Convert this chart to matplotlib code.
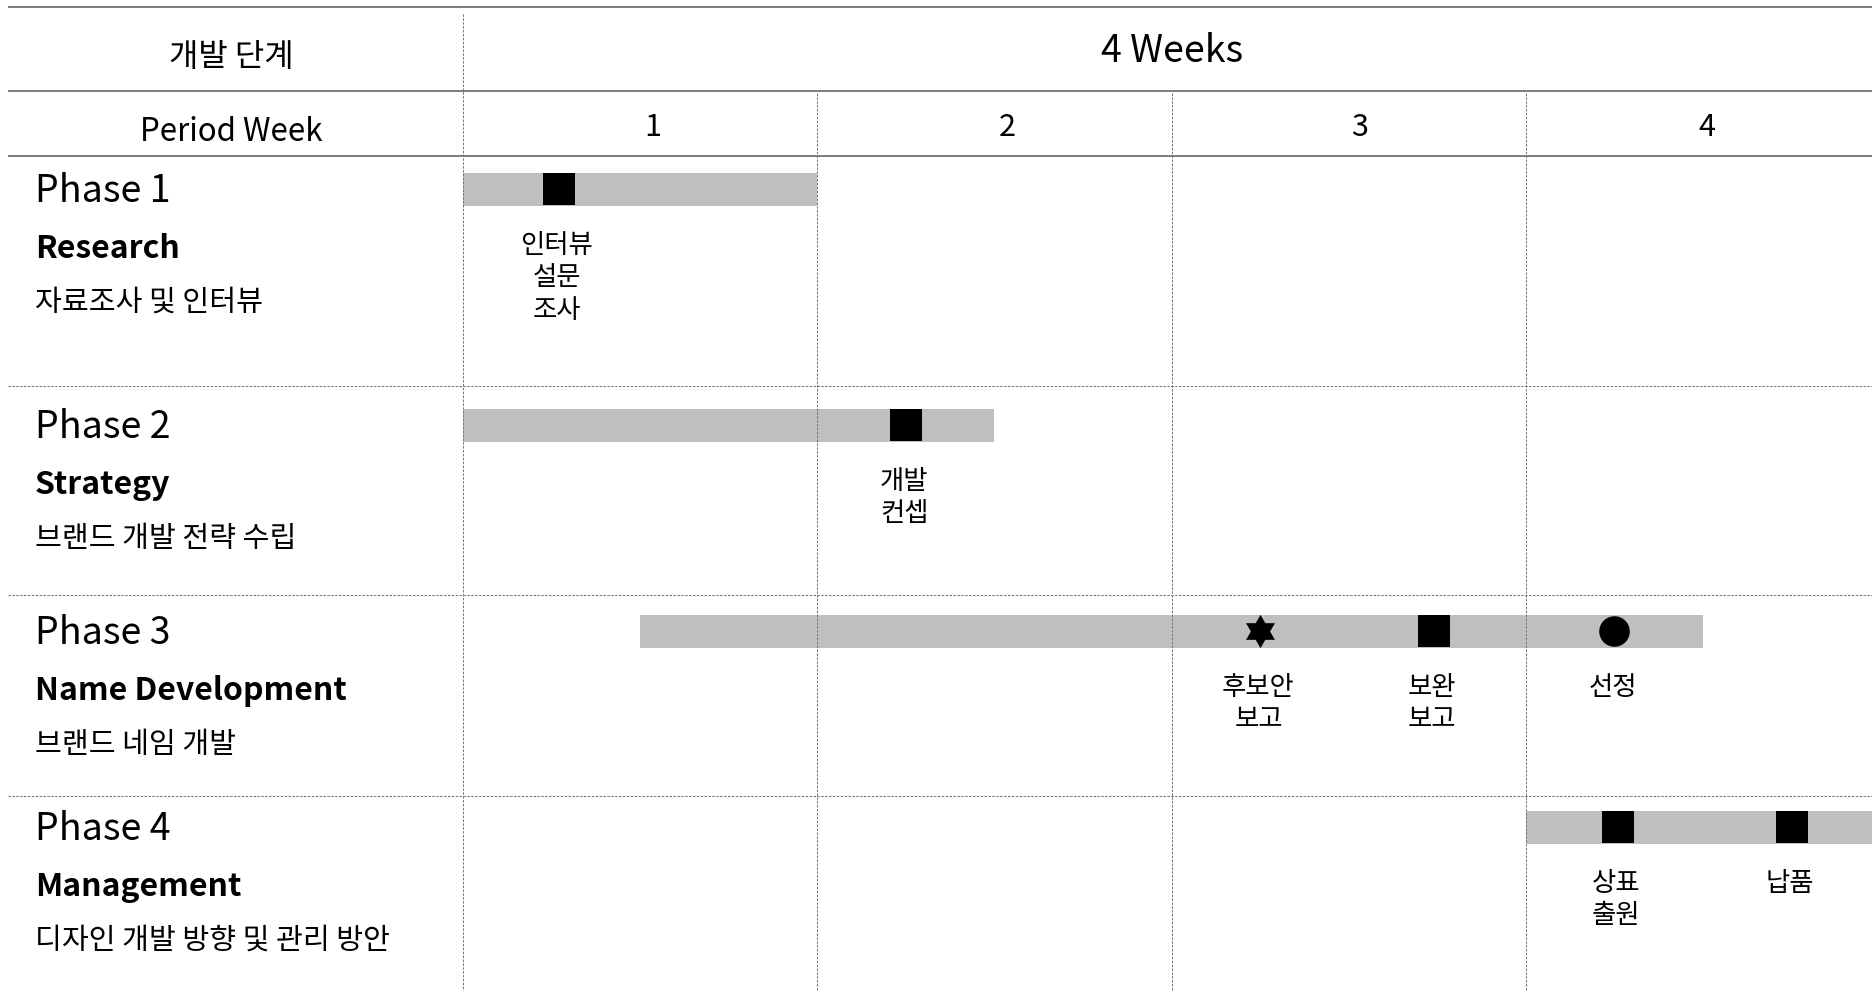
import numpy as np
import matplotlib
matplotlib.use('Agg')
import matplotlib.pyplot as plt
from matplotlib.path import Path

plt.rcParams['font.family'] = ['Noto Sans CJK KR', 'DejaVu Sans']

# --- data ---
weeks = ['1', '2', '3', '4']
phase_nums = ['Phase 1', 'Phase 2', 'Phase 3', 'Phase 4']
phase_names = ['Research', 'Strategy', 'Name Development', 'Management']
phase_desc = ['자료조사 및 인터뷰', '브랜드 개발 전략 수립', '브랜드 네임 개발',
              '디자인 개발 방향 및 관리 방안']
bar_start = [0.0, 0.0, 0.5, 3.0]
bar_end = [1.0, 1.5, 3.5, 4.0]

ms_phase = [0, 1, 2, 2, 2, 3, 3]
ms_week = [0.27, 1.25, 2.25, 2.74, 3.25, 3.26, 3.75]
ms_kind = ['square', 'square', 'star', 'square', 'circle', 'square', 'square']
ms_label = ['인터뷰\n설문\n조사', '개발\n컨셉', '후보안\n보고', '보완\n보고', '선정',
            '상표\n출원', '납품']

# --- layout (x in weeks, y in pixels from top) ---
W, H = 1872, 991
WPX = 354.3                 # pixels per week
X0 = -463 / WPX             # left edge of figure in week units
X1 = X0 + W / WPX
row_top = [156, 386, 595, 796]
bar_y = [189, 425, 631, 827]
BAR_H = 33

# six pointed star
ang = np.deg2rad(90 + 30 * np.arange(12))
rad = np.where(np.arange(12) % 2 == 0, 1.0, 1 / np.sqrt(3))
star = np.column_stack([rad * np.cos(ang), rad * np.sin(ang)])
star = np.vstack([star, star[:1]])
markers = {'square': ('s', 23), 'circle': ('o', 22), 'star': (Path(star, closed=True), 24)}

fig = plt.figure(figsize=(W / 100, H / 100), dpi=100)
ax = fig.add_axes([0, 0, 1, 1])
ax.set_xlim(X0, X1)
ax.set_ylim(H, 0)
ax.axis('off')

# bars
ax.barh(bar_y, np.array(bar_end) - np.array(bar_start), left=bar_start,
        height=BAR_H, color='#bfbfbf', zorder=1)

# grid lines
xs = X0 + 8 / WPX
dash = (0, (2.5, 1.5))
ax.hlines([7, 91, 156], xs, X1, color='#5a5a5a', lw=1.1, zorder=3)
ax.hlines(row_top[1:], xs, X1, color='#707070', lw=0.7, linestyles=[dash], zorder=3)
ax.vlines(0, 14, H, color='#707070', lw=0.7, linestyles=[dash], zorder=3)
ax.vlines([1, 2, 3], 93, H, color='#707070', lw=0.7, linestyles=[dash], zorder=3)

# header
ax.text(X0 / 2, 57, '개발 단계', ha='center', va='center', fontsize=23)
ax.text(2.0, 52, '4 Weeks', ha='center', va='center', fontsize=27)
ax.text(X0 / 2, 132, 'Period Week', ha='center', va='center', fontsize=22.5)
week_x = [0.535, 1.535, 2.53, 3.51]
for x, w in zip(week_x, weeks):
    ax.text(x, 127, w, ha='center', va='center', fontsize=22)

# left column
tx = X0 + 35 / WPX
for i in range(4):
    ax.text(tx, bar_y[i] + 2, phase_nums[i], ha='left', va='center', fontsize=27,
            fontweight='light')
    ax.text(tx, bar_y[i] + 60, phase_names[i], ha='left', va='center', fontsize=23,
            fontweight='bold')
    ax.text(tx, bar_y[i] + 114, phase_desc[i], ha='left', va='center', fontsize=21)

# milestones
for p, w, k, lab in zip(ms_phase, ms_week, ms_kind, ms_label):
    m, s = markers[k]
    ax.plot(w, bar_y[p], marker=m, markersize=s, color='black', mec='black',
            mew=0, zorder=2)
    ax.text(w - 0.005, bar_y[p] + 43, lab, ha='center', va='top', fontsize=19,
            linespacing=1.25)

fig.savefig('out.png', dpi=100)
